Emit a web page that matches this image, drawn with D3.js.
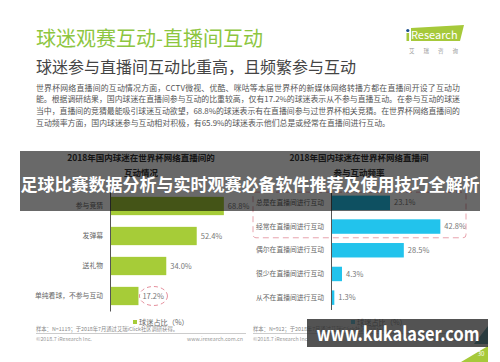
<!DOCTYPE html>
<html>
<head>
<meta charset="utf-8">
<script src="https://cdn.jsdelivr.net/npm/d3@7"></script>
<style>
body { margin: 0; background: #fff; }
svg { display: block; }
text { font-family: "Noto Sans CJK SC", "Noto Sans", sans-serif; }
</style>
</head>
<body>
<svg id="painter" width="500" height="362"></svg>
<script>
const leftCats = ["参与竞猜", "发弹幕", "送礼物", "单纯看球，不参与互动"];
const leftValues = [68.8, 52.4, 34.0, 17.2];
const rightCats = ["总是在直播间进行互动", "经常在直播间进行互动", "偶尔在直播间进行互动", "很少在直播间进行互动", "从不在直播间进行互动"];
const rightValues = [23.1, 42.8, 28.5, 4.3, 1.3];
const leftTitle = ["2018年国内球迷在世界杯网络直播间的", "互动情况"];
const rightTitle = ["2018年国内球迷在世界杯网络直播间", "参与互动频率"];
const legendLabel = "球迷占比（%）";
const paragraph = [
    "世界杯网络直播间的互动情况方面，CCTV微视、优酷、咪咕等本届世界杯的新媒体网络转播方都在直播间开设了互动功",
    "能。根据调研结果，国内球迷在直播间参与互动的比重较高，仅有17.2%的球迷表示从不参与直播互动。在参与互动的球迷",
    "当中，直播间的竞猜最能吸引球迷互动欲望，68.8%的球迷表示有在直播间参与过世界杯相关竞猜。在世界杯网络直播间的",
    "互动频率方面，国内球迷参与互动相对积极，有65.9%的球迷表示他们总是或经常在直播间进行互动。",
];

const green = "#a6cc38";
const cyan = "#22c3ec";
const svg = d3.select("#painter");

// header
svg.append("text").attr("x", 36).attr("y", 46)
    .attr("font-size", 20).attr("fill", "#8dc63f")
    .text("球迷观赛互动-直播间互动");
svg.append("text").attr("x", 36).attr("y", 73)
    .attr("font-size", 16).attr("fill", "#444")
    .text("球迷参与直播间互动比重高，且频繁参与互动");

// iResearch logo
svg.append("polygon").attr("points", "411,28 464,25 460,41 411,41").attr("fill", "#a6c93a");
svg.append("rect").attr("x", 406.5).attr("y", 33).attr("width", 2.6).attr("height", 8).attr("fill", "#a6c93a");
svg.append("circle").attr("cx", 407.8).attr("cy", 30.5).attr("r", 1.6).attr("fill", "#1d4f8c");
svg.append("text").attr("x", 411).attr("y", 39).attr("font-size", 11)
    .attr("font-family", "Open Sans").attr("fill", "#fff").text("Research");
svg.append("text").attr("x", 409).attr("y", 53).attr("font-size", 5.5)
    .attr("fill", "#999").attr("letter-spacing", 9).text("艾瑞咨询");

svg.selectAll("text.para")
    .data(paragraph)
    .enter()
    .append("text")
    .attr("class", "para")
    .attr("x", 36)
    .attr("y", (d, i) => 90.5 + i * 11.8)
    .attr("font-size", 7.9)
    .attr("fill", "#555")
    .each(function (d, i) {
        if (i < paragraph.length - 1) {
            d3.select(this).attr("textLength", 424).attr("lengthAdjust", "spacing");
        }
    })
    .text((d) => d);

// left chart
const xL = d3.scaleLinear().domain([0, 100]).range([110, 275.5]);
const yL = d3.scaleBand().domain(leftCats).range([191, 311]).paddingInner(0.39).paddingOuter(0.195);

// right chart
const xR = d3.scaleLinear().domain([0, 100]).range([331, 586.5]);
const yR = d3.scaleBand().domain(rightCats).range([191, 309.5]).paddingInner(0.39).paddingOuter(0.195);

function drawTitle(lines, cx) {
    svg.append("g").selectAll("text")
        .data(lines)
        .enter()
        .append("text")
        .attr("x", cx)
        .attr("y", (d, i) => 161 + i * 15)
        .attr("text-anchor", "middle")
        .attr("font-size", 8.5)
        .attr("font-weight", "bold")
        .attr("fill", "#333")
        .text((d) => d);
}
drawTitle(leftTitle, 141);
drawTitle(rightTitle, 359);

function drawBars(cats, values, x, y, color) {
    const data = cats.map((c, i) => ({ name: c, value: values[i] }));
    svg.append("g").selectAll("rect")
        .data(data)
        .enter()
        .append("rect")
        .attr("x", x(0))
        .attr("y", (d) => y(d.name))
        .attr("width", (d) => x(d.value) - x(0))
        .attr("height", y.bandwidth())
        .attr("fill", color);
    svg.append("g").selectAll("text")
        .data(data)
        .enter()
        .append("text")
        .attr("x", (d) => x(d.value) + 4)
        .attr("y", (d) => y(d.name) + y.bandwidth() / 2 + 2.6)
        .attr("font-size", 7.5)
        .attr("fill", "#777")
        .text((d) => d.value.toFixed(1) + "%");
    const axis = svg.append("g")
        .attr("transform", "translate(" + x(0) + ",0)")
        .call(d3.axisLeft(y).tickSize(0).tickSizeOuter(0).tickPadding(7));
    axis.select(".domain").attr("stroke", "#555").attr("stroke-width", 1);
    axis.selectAll("text")
        .attr("font-size", 6.8)
        .attr("fill", "#666")
        .attr("font-family", "Noto Sans CJK SC");
}
drawBars(leftCats, leftValues, xL, yL, green);
drawBars(rightCats, rightValues, xR, yR, cyan);

// highlight marks
svg.append("ellipse")
    .attr("cx", xL(leftValues[3]) + 15)
    .attr("cy", yL(leftCats[3]) + yL.bandwidth() / 2)
    .attr("rx", 14).attr("ry", 9.5)
    .attr("fill", "none").attr("stroke", "#e58f9c")
    .attr("stroke-width", 1).attr("stroke-dasharray", "4,3");
svg.append("rect")
    .attr("x", 253).attr("y", yR(rightCats[0]) - 3.5)
    .attr("width", 213).attr("height", yR(rightCats[1]) + yR.bandwidth() + 4 - yR(rightCats[0]) + 3.5)
    .attr("rx", 3)
    .attr("fill", "none").attr("stroke", "#e8a3ad")
    .attr("stroke-width", 1).attr("stroke-dasharray", "6,4");

// legends
[135, 353].forEach((lx, i) => {
    svg.append("rect").attr("x", lx - 2).attr("y", 320).attr("width", 4).attr("height", 4)
        .attr("fill", i === 0 ? green : cyan);
    svg.append("text").attr("x", lx + 4).attr("y", 325)
        .attr("font-size", 7.2).attr("fill", "#666").text(legendLabel);
});

// footers
const footers = [
    { x0: 36, x1: 246, sample: "样本：N=1119；于2018年7月通过艾瑞iClick社区调研获得。" },
    { x0: 253, x1: 472, sample: "样本：N=912；于2018年7月通过艾瑞iClick社区调研获得。" },
];
footers.forEach((f) => {
    svg.append("text").attr("x", f.x0).attr("y", 331).attr("font-size", 5.3).attr("fill", "#888").text(f.sample);
    svg.append("line").attr("x1", f.x0).attr("x2", f.x1).attr("y1", 333.5).attr("y2", 333.5)
        .attr("stroke", "#aaa").attr("stroke-width", 0.6);
    svg.append("text").attr("x", f.x0).attr("y", 341).attr("font-size", 5.3).attr("fill", "#999")
        .attr("font-family", "Liberation Sans").text("©2018.7 iResearch Inc.");
    svg.append("text").attr("x", f.x1 - 3).attr("y", 341).attr("font-size", 5.3).attr("fill", "#999")
        .attr("text-anchor", "end").attr("font-family", "Liberation Sans").text("www.iresearch.com.cn");
});

// page corner
svg.append("polygon").attr("points", "474,344 488,326 488,344").attr("fill", "#1f7f8f");
svg.append("polygon").attr("points", "461,362 488,346 488,362").attr("fill", "#a6c93a");
svg.append("text").attr("x", 481).attr("y", 356).attr("font-size", 6).attr("fill", "#fff")
    .attr("text-anchor", "middle").text("30");

// overlay banner
svg.append("rect").attr("x", 20).attr("y", 151).attr("width", 460).attr("height", 60)
    .attr("fill", "rgba(0,0,0,0.59)");
svg.append("text").attr("x", 250).attr("y", 191)
    .attr("text-anchor", "middle").attr("font-size", 17).attr("font-weight", "bold")
    .attr("fill", "#fff").text("足球比赛数据分析与实时观赛必备软件推荐及使用技巧全解析");

// watermark
svg.append("rect").attr("x", 307).attr("y", 319).attr("width", 181).attr("height", 28)
    .attr("fill", "rgba(45,45,45,0.82)");
svg.append("text").attr("x", 398).attr("y", 341)
    .attr("text-anchor", "middle").attr("font-size", 19.5).attr("font-weight", "bold")
    .attr("font-family", "Open Sans").attr("fill", "#fff")
    .attr("textLength", 163).attr("lengthAdjust", "spacingAndGlyphs")
    .text("www.kukalaser.com");
</script>
</body>
</html>
